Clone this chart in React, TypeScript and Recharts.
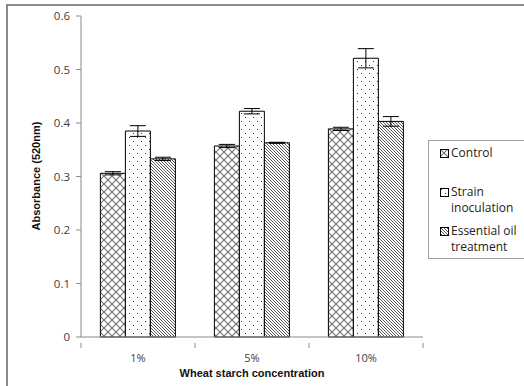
import { BarChart, Bar, XAxis, YAxis, Legend, ErrorBar } from 'recharts';

const categories = ['1%', '5%', '10%'];
const control = [0.306, 0.357, 0.389];
const controlErr = [0.003, 0.003, 0.003];
const strain = [0.385, 0.422, 0.521];
const strainErr = [0.01, 0.005, 0.018];
const oil = [0.333, 0.363, 0.403];
const oilErr = [0.003, 0.001, 0.009];
const yTicks = [0, 0.1, 0.2, 0.3, 0.4, 0.5, 0.6];

const data = categories.map((c, i) => ({
  name: c,
  control: control[i],
  controlErr: controlErr[i],
  strain: strain[i],
  strainErr: strainErr[i],
  oil: oil[i],
  oilErr: oilErr[i],
}));

const series = [
  { key: 'control', fill: 'url(#pCross)', label: ['Control'] },
  { key: 'strain', fill: 'url(#pDots)', label: ['Strain', 'inoculation'] },
  { key: 'oil', fill: 'url(#pDiag)', label: ['Essential oil', 'treatment'] },
];

const W = 524;
const H = 386;
const M = { top: 16, right: 101, left: 0, bottom: 0 };
const Y_W = 81;
// half the width of one category band, for Excel-style ticks between categories
const HALF_BAND = (W - Y_W - M.right) / categories.length / 2;

const font = '"Open Sans", "Liberation Sans", sans-serif';

// category label plus boundary tick marks
const CatTick = ({ x, y, payload, index }: any) => (
  <g>
    <line x1={x - HALF_BAND} x2={x - HALF_BAND} y1={y - 10} y2={y - 5} stroke="#8a8a8a" />
    {index === categories.length - 1 && (
      <line x1={x + HALF_BAND} x2={x + HALF_BAND} y1={y - 10} y2={y - 5} stroke="#8a8a8a" />
    )}
    <text x={x} y={y + 9} textAnchor="middle" fontFamily={font} fontSize={11} fill="#404040">
      {payload.value}
    </text>
  </g>
);

const LegendBox = () => (
  <div style={{ border: '1px solid #a0a0a0', background: '#fff', width: 110, height: 119, boxSizing: 'border-box', padding: '4px 0 0 11px', fontFamily: font, fontSize: 12, color: '#222', lineHeight: '16px' }}>
    {series.map((s, i) => (
      <div key={s.key} style={{ display: 'flex', marginTop: i === 0 ? 0 : i === 1 ? 23 : 7 }}>
        <svg width={9} height={9} style={{ marginTop: 4, marginRight: 2, flex: 'none' }}>
          <rect x={0.5} y={0.5} width={8} height={8} fill={s.fill} stroke="#000" />
        </svg>
        <div>
          {s.label.map((t) => (
            <div key={t}>{t}</div>
          ))}
        </div>
      </div>
    ))}
  </div>
);

export default function App() {
  return (
    <div style={{ position: 'absolute', left: 0, top: 0, width: W, height: H, overflow: 'hidden', background: '#fff' }}>
      <div style={{ position: 'absolute', left: 6, top: 4, width: 540, height: 400, border: '2px solid #8a8a8a' }} />
      <BarChart
        width={W}
        height={H}
        data={data}
        margin={M}
        barCategoryGap="17%"
        barGap={0}
        style={{ position: 'absolute', left: 0, top: 0 }}
      >
        <defs>
          <pattern id="pCross" width={8} height={8} patternUnits="userSpaceOnUse">
            <rect width={8} height={8} fill="#fff" />
            <path d="M0,0 L8,8 M8,0 L0,8" stroke="#6f6f6f" strokeWidth={1.1} />
          </pattern>
          <pattern id="pDots" width={8} height={8} patternUnits="userSpaceOnUse">
            <rect width={8} height={8} fill="#fff" />
            <rect x={1} y={1} width={1} height={1} fill="#333" />
            <rect x={5} y={5} width={1} height={1} fill="#333" />
          </pattern>
          <pattern id="pDiag" width={3} height={3} patternUnits="userSpaceOnUse">
            <rect width={3} height={3} fill="#fff" />
            <path d="M0,0 L3,3 M-1,2 L1,4 M2,-1 L4,1" stroke="#444" strokeWidth={0.9} />
          </pattern>
        </defs>
        <XAxis
          dataKey="name"
          height={49}
          tickLine={false}
          tickMargin={10}
          axisLine={{ stroke: '#8a8a8a' }}
          tick={<CatTick />}
          label={({ viewBox }: any) => (
            <text x={viewBox.x + viewBox.width / 2} y={377} textAnchor="middle" fontFamily="Liberation Sans, sans-serif" fontWeight="bold" fontSize={11} fill="#111">
              Wheat starch concentration
            </text>
          )}
        />
        <YAxis
          width={Y_W}
          domain={[0, 0.6]}
          ticks={yTicks}
          tickSize={5}
          tickMargin={6}
          interval={0}
          axisLine={{ stroke: '#8a8a8a' }}
          tickLine={{ stroke: '#8a8a8a' }}
          tick={{ fill: '#404040', fontSize: 11.5, fontFamily: font }}
          label={() => (
            <text x={40} y={176} transform="rotate(-90 40 176)" textAnchor="middle" fontFamily="Liberation Sans, sans-serif" fontWeight="bold" fontSize={11} fill="#111">
              Absorbance (520nm)
            </text>
          )}
        />
        <Legend
          layout="vertical"
          align="center"
          verticalAlign="middle"
          content={() => <LegendBox />}
          wrapperStyle={{ left: 428, top: 140, width: 110 }}
        />
        {series.map((s) => (
          <Bar key={s.key} dataKey={s.key} fill={s.fill} stroke="#000" strokeWidth={1} isAnimationActive={false}>
            <ErrorBar dataKey={`${s.key}Err`} width={8} stroke="#000" strokeWidth={1} />
          </Bar>
        ))}
      </BarChart>
    </div>
  );
}
